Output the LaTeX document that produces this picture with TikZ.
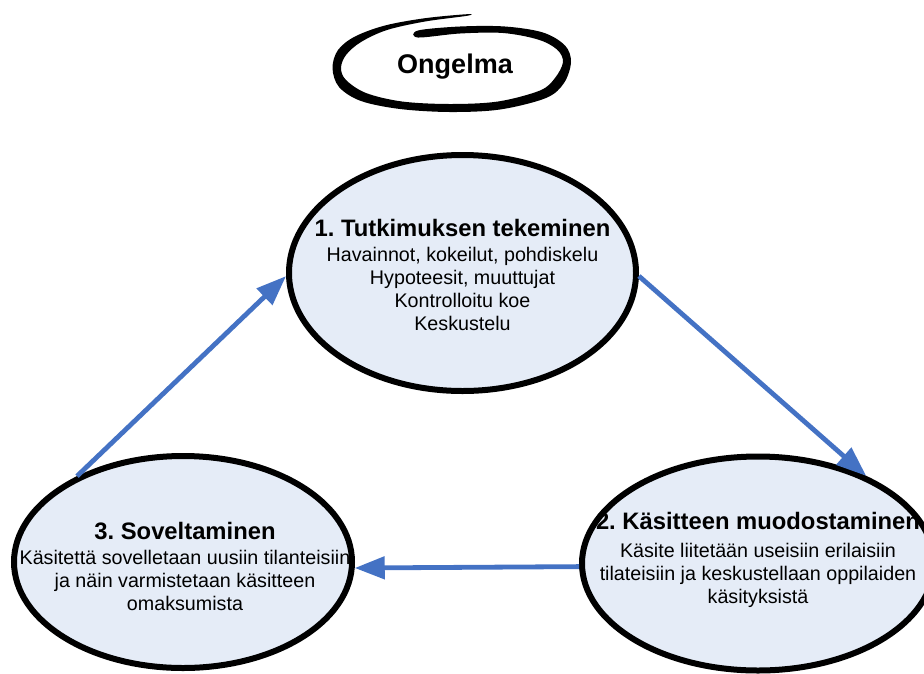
\documentclass[tikz,border=0pt]{standalone}
\usepackage{fontspec}
\setmainfont{Liberation Sans}
\usetikzlibrary{shapes.geometric,arrows.meta}
\definecolor{bubblefill}{RGB}{229,236,247}
\definecolor{flowblue}{RGB}{68,114,196}
\frenchspacing
\begin{document}
\begin{tikzpicture}[x=1pt,y=-1pt,
  phase/.style={ellipse, draw=black, line width=6pt, fill=bubblefill, inner sep=0pt},
  flow/.style={draw=flowblue, line width=4.8pt, -{Triangle[length=30pt,width=22pt]}},
  head/.style={font=\fontsize{23.8}{28}\selectfont\bfseries, anchor=base, inner sep=0pt},
  body/.style={font=\fontsize{19.7}{23}\selectfont, align=center, anchor=base, inner sep=0pt}]
\useasboundingbox (0,0) rectangle (924,673);

% hand-drawn loop round the problem statement
\fill[black] plot[smooth cycle, tension=0.55] coordinates {
  (418,30.5) (460,26.5) (505,26.5) (543,32.5) (565,45.5) (571,62) (564,83) (546,98)
  (500,109.5) (450,112) (400,109) (361,101) (339,87) (332.5,68) (338,50)
  (355,36.5) (385,25.5) (425,18.2) (467,14.2)
  (467,15.8) (425,21.5) (387,30) (361,42) (346,55) (341,68) (346,80)
  (366,93) (402,101.5) (450,104) (498,101.5) (540,90.5) (555,78) (563,62)
  (557,49.5) (538,39.5) (503,33) (460,33.5) (418,37.5)};
\node[font=\fontsize{27}{32}\selectfont\bfseries, anchor=base, inner sep=0pt] (problem) at (455,73) {Ongelma};

% the three phases of the cycle
\node[phase, minimum width=347pt, minimum height=236pt] (e1) at (462.5,273) {};
\node[phase, minimum width=352pt, minimum height=214pt] (e2) at (758,563.5) {};
\node[phase, minimum width=338pt, minimum height=212pt] (e3) at (183,562) {};

% titles sit on their baselines; body blocks are placed by their last baseline
\node[head] (h1) at (462.5,236) {1. Tutkimuksen tekeminen};
\node[body] (b1) at (462.5,330) {Havainnot, kokeilut, pohdiskelu\\Hypoteesit, muuttujat\\Kontrolloitu koe\\Keskustelu};

\node[head] (h2) at (758,529) {2. Käsitteen muodostaminen};
\node[body] (b2) at (758,603) {Käsite liitetään useisiin erilaisiin\\tilateisiin ja keskustellaan oppilaiden\\käsityksistä};

\node[head] (h3) at (185,539) {3. Soveltaminen};
\node[body] (b3) at (185,610) {Käsitettä sovelletaan uusiin tilanteisiin\\ja näin varmistetaan käsitteen\\omaksumista};

% cycle arrows
\draw[flow] (e1.-1) -- (e2.39);
\draw[flow] (e2.181) -- (e3.-2);
\draw[flow] (e3.141) -- (e1.181);
\end{tikzpicture}
\end{document}
